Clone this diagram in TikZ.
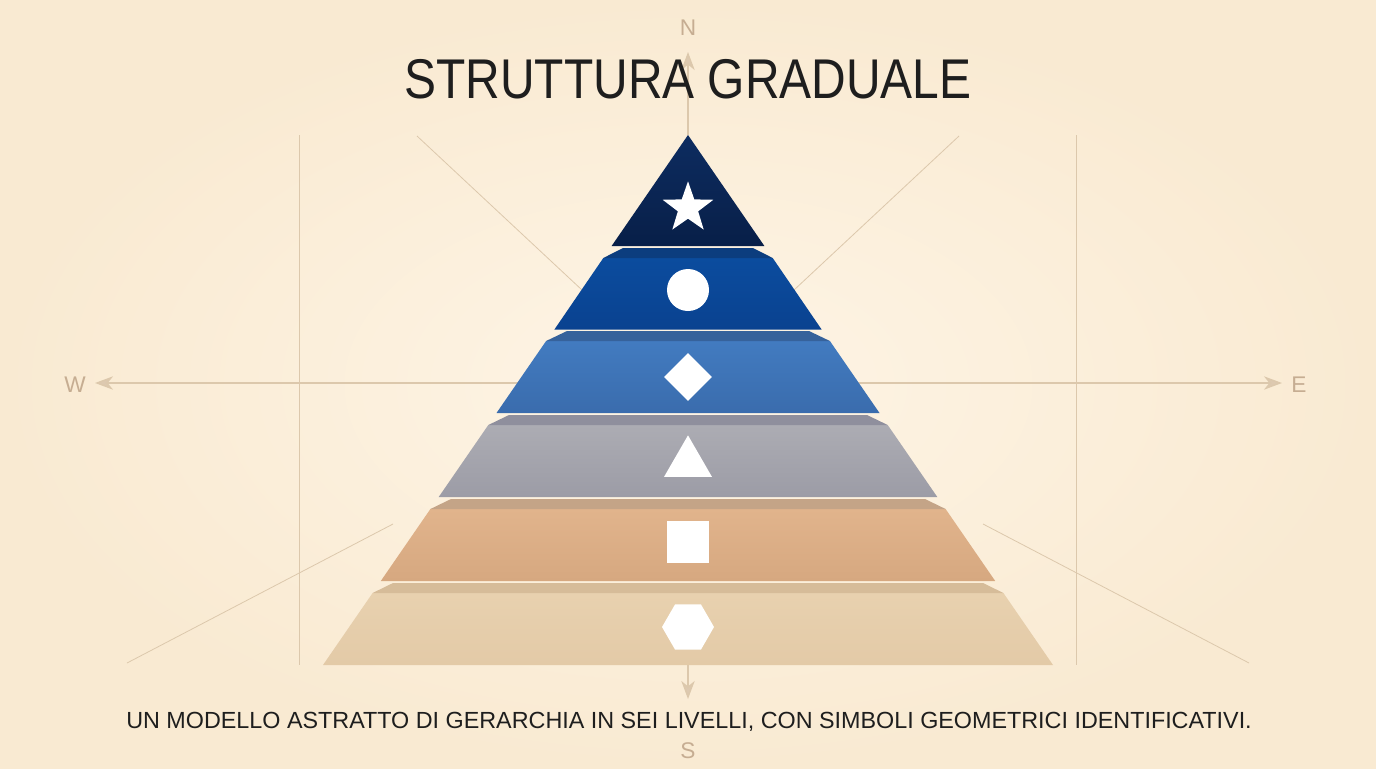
\documentclass[tikz,border=0pt]{standalone}
\usepackage{fontspec}
\setmainfont{Liberation Sans}
\usepackage{tikz}
\usetikzlibrary{arrows.meta,shapes.geometric}

\definecolor{bgin}{HTML}{FEF5E6}
\definecolor{bgout}{HTML}{F9EAD2}
\definecolor{axisline}{HTML}{DCC8AC}
\definecolor{axistip}{HTML}{DDC9B0}
\definecolor{axislabel}{HTML}{C6AD92}
\definecolor{navy}{HTML}{0D2C60}
\definecolor{navydark}{HTML}{081F48}
\definecolor{bluemid}{HTML}{0B4C9E}
\definecolor{bluemiddark}{HTML}{0A4290}
\definecolor{bluemidstrip}{HTML}{0C3D7E}
\definecolor{bluelight}{HTML}{427BC0}
\definecolor{bluelightdark}{HTML}{3A6CAD}
\definecolor{bluelightstrip}{HTML}{36629B}
\definecolor{greylayer}{HTML}{ACACB3}
\definecolor{greylayerdark}{HTML}{9C9CA6}
\definecolor{greystrip}{HTML}{8F8F9D}
\definecolor{tanlayer}{HTML}{E1B48C}
\definecolor{tanlayerdark}{HTML}{D6A880}
\definecolor{tanstrip}{HTML}{C4A487}
\definecolor{sandlayer}{HTML}{E8D1AF}
\definecolor{sandlayerdark}{HTML}{E3CAA7}
\definecolor{sandstrip}{HTML}{D6BC99}
\definecolor{inktext}{HTML}{1E1E1E}

\tikzset{
  axis/.style={draw=axisline, line width=1.1pt},
  axisarrow/.style={axis, -{Stealth[length=13.5pt,width=10pt,inset=4pt,fill=axistip]}},
  guide/.style={draw=axisline, line width=0.6pt},
  compass/.style={text=axislabel, font=\fontsize{17}{20}\selectfont, inner sep=0pt, anchor=base},
  symbol/.style={fill=white, draw=none, inner sep=0pt},
}

\begin{document}
\begin{tikzpicture}[x=0.75pt,y=0.75pt,yscale=-1,xscale=1]
\useasboundingbox (0,0) rectangle (1376,768);

%Background
\fill [inner color=bgin, outer color=bgout] (0,0) rectangle (1376,768);

%Guide lines
\coordinate (apex) at (688,135);
\coordinate (base) at (688,665);
\coordinate (mid) at (688,383);
\draw [guide] (299,135) -- (299,665);
\draw [guide] (1076,135) -- (1076,665);
\draw [guide] (417,136) -- (582,290);
\draw [guide] (959,136) -- (794,290);
\draw [guide] (393,524) -- (127,663);
\draw [guide] (983,524) -- (1249,663);

%Compass axes
\coordinate (ntip) at (688,52);
\coordinate (stip) at (688,699);
\coordinate (wtip) at (95,383);
\coordinate (etip) at (1282,383);
\draw [axisarrow] (apex) -- (ntip);
\draw [axisarrow] (base) -- (stip);
\draw [axisarrow] (mid) -- (wtip);
\draw [axisarrow] (mid) -- (etip);
\node [compass] (lblN) at (688,35) {N};
\node [compass] (lblS) at (688,758) {S};
\node [compass] (lblW) at (75,392) {W};
\node [compass] (lblE) at (1299,392) {E};

%Layer 1
\shade [top color=navy, bottom color=navydark] (688,135) -- (764.4,246) -- (611.6,246) -- cycle;
%Layer 2
\shade [top color=bluemid, bottom color=bluemiddark] (603.3,258) -- (772.7,258) -- (821.6,329.5) -- (554.4,329.5) -- cycle;
\fill [bluemidstrip] (603.3,258) -- (623,248) -- (753,248) -- (772.7,258) -- cycle;
%Layer 3
\shade [top color=bluelight, bottom color=bluelightdark] (546.1,341) -- (829.9,341) -- (879.5,413) -- (496.5,413) -- cycle;
\fill [bluelightstrip] (546.1,341) -- (567,331) -- (809,331) -- (829.9,341) -- cycle;
%Layer 4
\shade [top color=greylayer, bottom color=greylayerdark] (488.3,425) -- (887.7,425) -- (937.3,497) -- (438.7,497) -- cycle;
\fill [greystrip] (488.3,425) -- (509,415) -- (867,415) -- (887.7,425) -- cycle;
%Layer 5
\shade [top color=tanlayer, bottom color=tanlayerdark] (430.4,509) -- (945.6,509) -- (995.2,581) -- (380.8,581) -- cycle;
\fill [tanstrip] (430.4,509) -- (451,499) -- (925,499) -- (945.6,509) -- cycle;
%Layer 6
\shade [top color=sandlayer, bottom color=sandlayerdark] (372.6,593) -- (1003.4,593) -- (1053,665) -- (323,665) -- cycle;
\fill [sandstrip] (372.6,593) -- (393,583) -- (983,583) -- (1003.4,593) -- cycle;

%Symbols
\node [symbol, star, star points=5, star point ratio=2.5, minimum size=40pt] (star) at (688,208) {};
\node [symbol, circle, minimum size=31.5pt] (dot) at (688,290) {};
\node [symbol, diamond, minimum size=36pt] (rhomb) at (688,377) {};
\node [symbol, regular polygon, regular polygon sides=3, minimum size=41.5pt] (tri) at (688,463) {};
\node [symbol, rectangle, minimum size=31.5pt] (sq) at (688,542) {};
\node [symbol, regular polygon, regular polygon sides=6, minimum size=39pt] (hex) at (688,627) {};

%Texts
\node [anchor=base, inner sep=0pt, text=inktext, font=\fontsize{42}{50}\selectfont] (title) at (688,98) {\scalebox{0.856}[1]{STRUTTURA GRADUALE}};
\node [anchor=base, inner sep=0pt, text=inktext, font=\fontsize{17.5}{21}\selectfont] (caption) at (689,728) {UN MODELLO ASTRATTO DI GERARCHIA IN SEI LIVELLI, CON SIMBOLI GEOMETRICI IDENTIFICATIVI.};

\end{tikzpicture}
\end{document}
